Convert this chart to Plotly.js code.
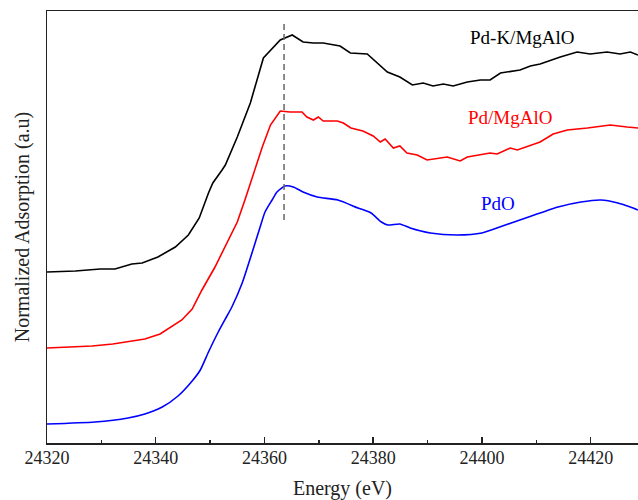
<!DOCTYPE html>
<html>
<head>
<meta charset="utf-8">
<script src="https://cdn.plot.ly/plotly-3.0.1.min.js"></script>
<style>html,body{margin:0;padding:0;background:#fff;overflow:hidden}</style>
</head>
<body>
<div id="chart" style="width:638px;height:500px"></div>
<script>
// Pd-K/MgAlO
const energyPdK = [24320.0,24325.2,24329.8,24332.5,24335.6,24337.5,24340.4,24343.6,24346.0,24348.0,24349.7,24350.5,24352.2,24352.8,24355.0,24357.4,24359.8,24361.1,24362.9,24365.1,24367.1,24369.0,24370.8,24373.9,24375.8,24378.9,24382.6,24384.9,24387.2,24389.2,24391.0,24392.9,24394.7,24397.3,24399.7,24401.5,24403.4,24407.0,24408.9,24410.7,24414.4,24417.5,24419.9,24423.0,24425.4,24427.3,24428.7];
const absPdK = [171,172,174,174,179,180,186,196,208,225,250,260,273,278,306,340,385,393,403,408,401,400,400,397,390,389,371,366,358,360,357,359,357,361,363,363,370,373,377,379,386,391,389,391,389,391,388];
// Pd/MgAlO
const energyPd = [24320.0,24328.3,24332.1,24334.4,24338.0,24340.8,24342.6,24344.8,24346.7,24348.5,24350.9,24353.1,24355.0,24356.4,24357.9,24359.6,24361.1,24362.9,24364.7,24366.9,24367.8,24369.0,24369.9,24370.8,24373.4,24374.5,24375.9,24378.1,24380.0,24381.3,24382.2,24383.7,24384.9,24386.2,24388.1,24389.9,24393.6,24396.0,24397.3,24401.5,24402.8,24405.2,24406.5,24408.9,24410.7,24413.1,24415.7,24419.4,24423.6,24426.7,24428.7];
const absPd = [95,97,99,101,104,109,115,123,134,153,176,200,221,243,268,296,318,332,331,331,326,323,326,322,322,320,315,312,307,301,304,295,297,290,288,283,286,282,286,290,289,295,293,298,301,309,313,315,318,316,315];
// PdO
const energyPdO = [24320.0,24328.8,24334.9,24338.0,24341.2,24344.1,24346.7,24348.2,24349.7,24351.5,24353.1,24354.0,24355.9,24357.7,24359.2,24360.1,24361.4,24362.3,24363.8,24365.3,24367.1,24369.7,24373.5,24377.2,24379.6,24381.5,24382.7,24384.9,24386.8,24390.5,24395.4,24400.0,24404.3,24409.1,24414.0,24418.2,24421.9,24425.0,24427.3,24428.7];
const absPdO = [19,21,25,29,36,47,62,73,91,111,127,136,160,190,216,231,243,251,257,256,251,246,243,235,230,221,218,219,215,210,208,210,218,227,236,241,243,240,236,233];
// reference line
const refEnergy = [24363.6, 24363.6];
const refAbs = [223, 420];
// labels
const labelText = ["Pd-K/MgAlO", "Pd/MgAlO", "PdO"];
const labelX = [24407.4, 24405.2, 24403.0];
const labelY = [406, 326, 240];
const labelColor = ["#000000", "#ff0000", "#0000ff"];
const xTicks = [24320, 24340, 24360, 24380, 24400, 24420];

const font = "Liberation Serif, Times New Roman, serif";
const traces = [
  {x: energyPdK, y: absPdK, mode: "lines", line: {color: "#000000", width: 1.6}},
  {x: energyPd, y: absPd, mode: "lines", line: {color: "#ff0000", width: 1.6}},
  {x: energyPdO, y: absPdO, mode: "lines", line: {color: "#0000ff", width: 1.6, shape: "spline", smoothing: 0.6}},
  {x: refEnergy, y: refAbs, mode: "lines", line: {color: "#666666", width: 1.5, dash: "6px,4px"}}
];
const annotations = labelText.map((t, i) => ({
  x: labelX[i], y: labelY[i], xref: "x", yref: "y", text: t, showarrow: false,
  font: {family: font, size: 19, color: labelColor[i]}
}));
const layout = {
  width: 638, height: 500,
  margin: {l: 47, r: 0, t: 11, b: 57},
  paper_bgcolor: "#ffffff", plot_bgcolor: "#ffffff",
  showlegend: false,
  font: {family: font, color: "#222"},
  xaxis: {
    range: [24320, 24428.7], tickvals: xTicks, ticktext: xTicks.map(String),
    ticks: "inside", ticklen: 6, tickwidth: 1.5, tickcolor: "#222",
    minor: {dtick: 10, tick0: 24320, ticks: "inside", ticklen: 3, tickwidth: 1.5, tickcolor: "#222", showgrid: false},
    showline: true, linecolor: "#222", linewidth: 1.5, mirror: true,
    showgrid: false, zeroline: false,
    ticklabelstandoff: -2,
    tickfont: {family: font, size: 18, color: "#222"},
    title: {text: "Energy (eV)", font: {family: font, size: 20, color: "#222"}, standoff: 16}
  },
  yaxis: {
    range: [0, 432], showticklabels: false, ticks: "",
    showline: true, linecolor: "#222", linewidth: 1.5,
    showgrid: false, zeroline: false,
    title: {text: "Normalized Adsorption (a.u)", font: {family: font, size: 20, color: "#222"}, standoff: 10}
  },
  annotations: annotations
};
Plotly.newPlot("chart", traces, layout, {displayModeBar: false, staticPlot: true});
</script>
</body>
</html>
